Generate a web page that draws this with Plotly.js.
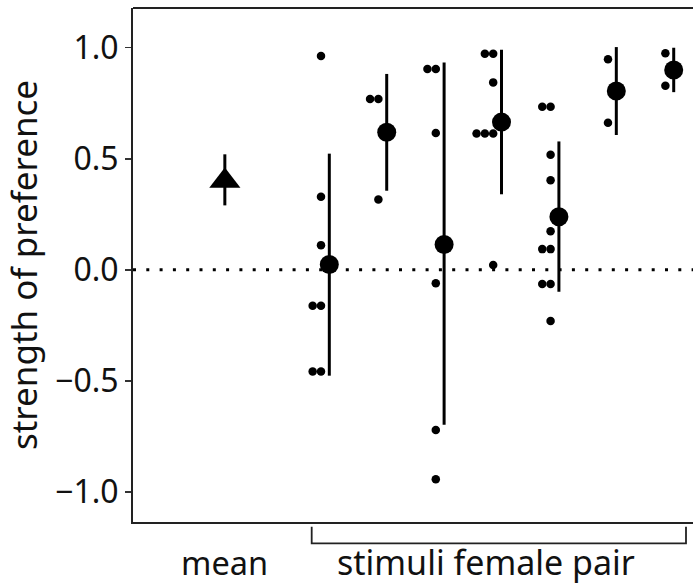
<!DOCTYPE html>
<html>
<head>
<meta charset="utf-8">
<script src="https://cdn.plot.ly/plotly-3.0.1.min.js"></script>
<style>html,body{margin:0;padding:0;background:#fff;}#chart{width:693px;height:587px;}</style>
</head>
<body>
<div id="chart"></div>
<script>
// ---- data ----
var groupNames = ["pair 1", "pair 2", "pair 3", "pair 4", "pair 5", "pair 6", "pair 7"];
var obs1 = [0.963, 0.329, 0.111, -0.162, -0.162, -0.458, -0.458];
var obs2 = [0.769, 0.769, 0.317];
var obs3 = [0.904, 0.904, 0.616, -0.061, -0.722, -0.943];
var obs4 = [0.973, 0.973, 0.844, 0.614, 0.614, 0.614, 0.021];
var obs5 = [0.734, 0.734, 0.518, 0.403, 0.174, 0.093, 0.093, -0.064, -0.064, -0.231];
var obs6 = [0.948, 0.662];
var obs7 = [0.975, 0.829];
var groupMean  = [0.024, 0.619, 0.114, 0.665, 0.239, 0.805, 0.900];
var groupUpper = [0.523, 0.882, 0.934, 0.991, 0.578, 1.003, 1.000];
var groupLower = [-0.477, 0.356, -0.698, 0.340, -0.099, 0.607, 0.800];
var overallMean = 0.40;
var overallUpper = 0.52;
var overallLower = 0.29;
var xLabels = ["mean", "stimuli female pair"];
var yTickVals = [-1.0, -0.5, 0.0, 0.5, 1.0];
var yLabel = "strength of preference";

// ---- layout helpers ----
var FONT = '"Noto Sans", "DejaVu Sans", sans-serif';
var meanPos = -0.82;
var step = 0.145;
var allObs = [obs1, obs2, obs3, obs4, obs5, obs6, obs7];
var ox = [], oy = [];
allObs.forEach(function (arr, gi) {
  var seen = {};
  arr.forEach(function (v) {
    var k = v.toFixed(3);
    seen[k] = (seen[k] || 0) + 1;
    ox.push(gi + 1 - step * seen[k]);
    oy.push(v);
  });
});
var gx = groupMean.map(function (_, i) { return i + 1; });

var traces = [
  {
    x: ox, y: oy, type: 'scatter', mode: 'markers',
    marker: {color: '#000', size: 8.5}, hoverinfo: 'y', showlegend: false
  },
  {
    x: gx, y: groupMean, type: 'scatter', mode: 'markers',
    marker: {color: '#000', size: 19},
    error_y: {
      type: 'data', symmetric: false,
      array: groupMean.map(function (m, i) { return groupUpper[i] - m; }),
      arrayminus: groupMean.map(function (m, i) { return m - groupLower[i]; }),
      width: 0, thickness: 3, color: '#000'
    },
    showlegend: false
  },
  {
    x: [meanPos], y: [overallMean], type: 'scatter', mode: 'markers',
    marker: {color: '#000', size: 27, symbol: 'triangle-up'},
    error_y: {
      type: 'data', symmetric: false,
      array: [overallUpper - overallMean], arrayminus: [overallMean - overallLower],
      width: 0, thickness: 3, color: '#000'
    },
    showlegend: false
  }
];

var layout = {
  width: 693, height: 587,
  margin: {l: 133, r: 0, t: 8, b: 65},
  paper_bgcolor: '#fff', plot_bgcolor: '#fff',
  font: {family: FONT, color: '#111'},
  xaxis: {
    range: [-2.42, 7.336], showgrid: false, zeroline: false,
    showticklabels: false, ticks: '', showline: true, linecolor: '#222', linewidth: 2
  },
  yaxis: {
    range: [-1.136, 1.179], showgrid: false, zeroline: false,
    tickvals: yTickVals, tickformat: '.1f',
    ticks: 'outside', ticklen: 6, tickwidth: 1.5, tickcolor: '#333',
    tickfont: {family: FONT, size: 32, color: '#111'},
    showline: true, linecolor: '#222', linewidth: 2,
    title: {text: yLabel, font: {family: FONT, size: 35, color: '#111'}, standoff: 8}
  },
  shapes: [
    {type: 'line', xref: 'paper', yref: 'paper', x0: 0, x1: 1.02, y0: 1, y1: 1,
     line: {color: '#222', width: 2}},
    {type: 'line', xref: 'paper', yref: 'y', x0: 0, x1: 1.02, y0: 0, y1: 0,
     line: {color: '#000', width: 3, dash: '3px,10.3px'}},
    {type: 'path', xref: 'x', yref: 'paper',
     path: 'M 0.693 -0.0091 L 0.693 -0.0414 L 7.214 -0.0414 L 7.214 -0.0091',
     line: {color: '#222', width: 1.8}}
  ],
  annotations: [
    {x: meanPos, y: -0.078, xref: 'x', yref: 'paper', text: xLabels[0], showarrow: false,
     xanchor: 'center', yanchor: 'middle', font: {family: FONT, size: 32.5, color: '#111'}},
    {x: 3.73, y: -0.078, xref: 'x', yref: 'paper', text: xLabels[1], showarrow: false,
     xanchor: 'center', yanchor: 'middle', font: {family: FONT, size: 34, color: '#111'}}
  ]
};

Plotly.newPlot('chart', traces, layout, {displayModeBar: false, staticPlot: true});
</script>
</body>
</html>
